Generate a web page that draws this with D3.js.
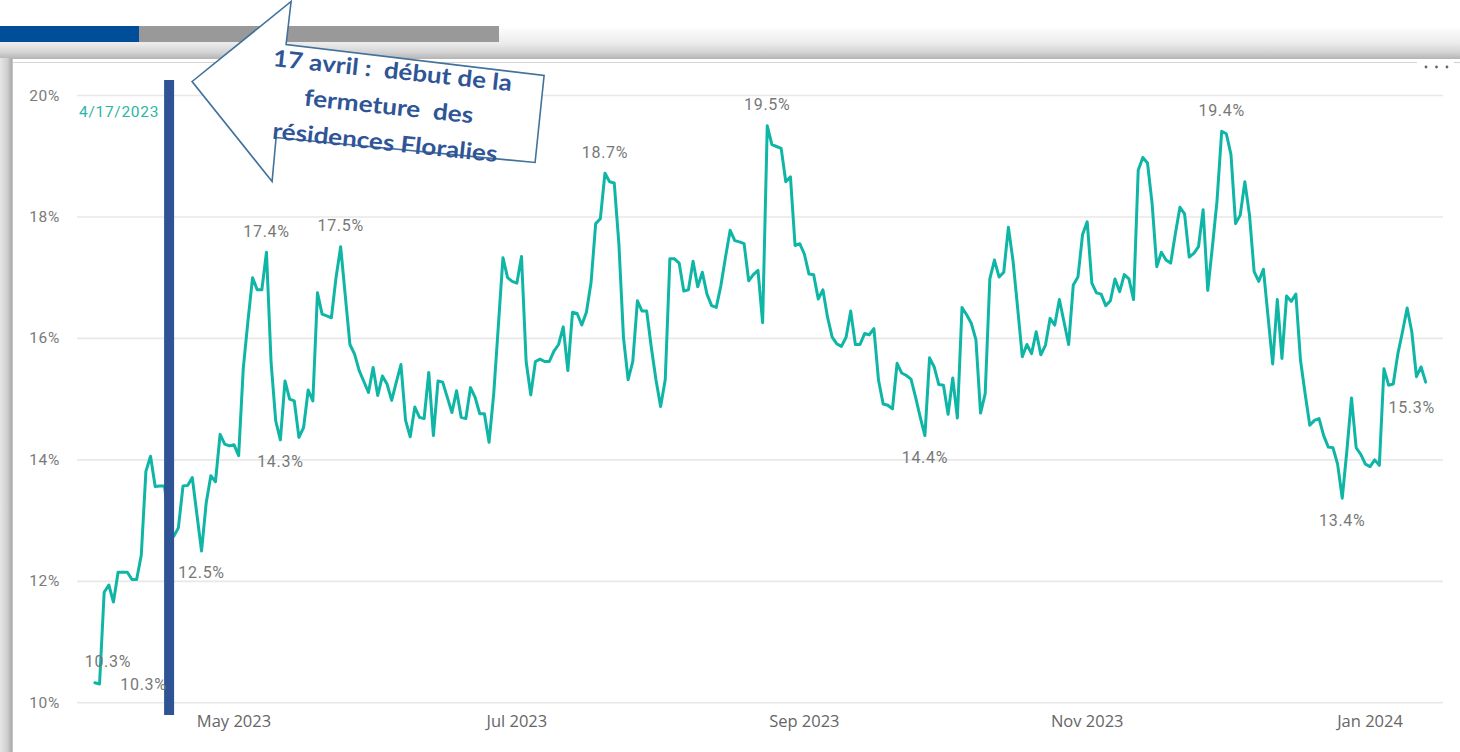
<!DOCTYPE html>
<html><head><meta charset="utf-8">
<script src="https://cdn.jsdelivr.net/npm/d3@7"></script>
<style>
html,body{margin:0;padding:0;background:#fff;}
svg{display:block;}
</style></head>
<body>
<svg id="chart" width="1460" height="752"></svg>
<script>
// ---------- data ----------
const startDate = "2023-04-01";          // first daily value
const values = [
  10.33,10.31,11.82,11.94,11.66,12.15,12.15,12.15,12.03,12.03,
  12.43,13.81,14.06,13.56,13.57,13.57,13.0,12.74,12.88,13.57,
  13.58,13.71,13.1,12.50,13.29,13.74,13.64,14.42,14.26,14.23,
  14.25,14.07,15.51,16.28,17.0,16.8,16.8,17.42,15.6,14.64,
  14.33,15.30,15.00,14.97,14.37,14.53,15.15,14.97,16.75,16.40,
  16.37,16.34,17.0,17.51,16.7,15.90,15.74,15.47,15.29,15.11,
  15.52,15.06,15.38,15.25,14.98,15.28,15.57,14.65,14.38,14.87,
  14.70,14.68,15.44,14.40,15.30,15.28,15.03,14.78,15.14,14.70,
  14.68,15.19,15.03,14.76,14.76,14.29,15.08,16.2,17.33,17.0,
  16.94,16.91,17.35,15.62,15.07,15.62,15.66,15.62,15.62,15.79,
  15.90,16.19,15.47,16.43,16.41,16.22,16.43,16.92,17.89,17.97,
  18.72,18.58,18.56,17.56,16.01,15.32,15.62,16.62,16.45,16.45,
  15.85,15.32,14.88,15.32,17.31,17.31,17.24,16.78,16.80,17.27,
  16.85,17.09,16.73,16.54,16.51,16.87,17.34,17.78,17.61,17.59,
  17.56,16.95,17.05,17.12,16.26,19.50,19.19,19.16,19.13,18.58,
  18.66,17.53,17.56,17.39,17.06,17.05,16.65,16.80,16.35,16.02,
  15.91,15.87,16.02,16.45,15.90,15.90,16.08,16.06,16.16,15.31,
  14.92,14.90,14.84,15.59,15.43,15.39,15.33,15.03,14.7,14.40,
  15.68,15.53,15.24,15.23,14.75,15.35,14.69,16.51,16.39,16.25,
  15.98,14.77,15.09,16.98,17.29,17.01,17.09,17.83,17.28,16.5,
  15.70,15.90,15.75,16.11,15.73,15.89,16.33,16.22,16.64,16.27,
  15.90,16.88,17.01,17.71,17.92,16.91,16.75,16.73,16.54,16.62,
  16.98,16.77,17.05,16.98,16.64,18.77,18.98,18.89,18.22,17.18,
  17.42,17.29,17.24,17.72,18.16,18.05,17.34,17.40,17.51,18.12,
  16.79,17.51,18.27,19.41,19.37,19.03,17.89,18.03,18.58,18.03,
  17.10,16.94,17.14,16.36,15.58,16.64,15.67,16.70,16.61,16.73,
  15.64,15.09,14.57,14.65,14.68,14.40,14.21,14.20,13.93,13.37,
  14.15,15.02,14.20,14.09,13.93,13.89,14.0,13.91,15.50,15.23,
  15.25,15.75,16.11,16.50,16.11,15.37,15.53,15.28
];
const yTicks = [10, 12, 14, 16, 18, 20];
const yTickLabels = ["10%", "12%", "14%", "16%", "18%", "20%"];
const xTickDates = ["2023-05-01", "2023-07-01", "2023-09-01", "2023-11-01", "2024-01-01"];
const xTickLabels = ["May 2023", "Jul 2023", "Sep 2023", "Nov 2023", "Jan 2024"];
const markerDate = "2023-04-17";
const markerLabel = "4/17/2023";
const labelIndex = [0, 1, 23, 37, 40, 53, 110, 145, 179, 243, 269, 287];
const labelSide  = ["first", "right", "below", "above", "below", "above", "above", "above", "below", "above", "below", "last"];
const calloutLines = ["17 avril :  début de la", "fermeture  des", "résidences Floralies"];

// ---------- setup ----------
const parse = d3.utcParse("%Y-%m-%d");
const t0 = parse(startDate);
const data = values.map((v, i) => ({date: d3.utcDay.offset(t0, i), value: v}));
const svg = d3.select("#chart");

const x = d3.scaleUtc()
  .domain([data[0].date, data[data.length - 1].date])
  .range([94.9, 1425.7]);
const y = d3.scaleLinear().domain([10, 20]).range([702.8, 95.5]);

const defs = svg.append("defs");
const gTop = defs.append("linearGradient").attr("id", "gTop").attr("x1", 0).attr("x2", 0).attr("y1", 0).attr("y2", 1);
gTop.append("stop").attr("offset", 0).attr("stop-color", "#fcfcfc");
gTop.append("stop").attr("offset", 0.5).attr("stop-color", "#ebebeb");
gTop.append("stop").attr("offset", 0.8).attr("stop-color", "#d2d2d2");
gTop.append("stop").attr("offset", 1).attr("stop-color", "#b4b4b4");
const gLeft = defs.append("linearGradient").attr("id", "gLeft").attr("x1", 0).attr("x2", 1).attr("y1", 0).attr("y2", 0);
gLeft.append("stop").attr("offset", 0).attr("stop-color", "#e6e6e6");
gLeft.append("stop").attr("offset", 0.6).attr("stop-color", "#cfcfcf");
gLeft.append("stop").attr("offset", 1).attr("stop-color", "#a9a9a9");

// ---------- frame ----------
svg.append("rect").attr("x", 0).attr("y", 28).attr("width", 1460).attr("height", 31).attr("fill", "url(#gTop)");
svg.append("rect").attr("x", 0).attr("y", 58).attr("width", 12).attr("height", 694).attr("fill", "url(#gLeft)");
svg.append("rect").attr("x", 0).attr("y", 26).attr("width", 139).attr("height", 16).attr("fill", "#004d99");
svg.append("rect").attr("x", 139).attr("y", 26).attr("width", 360).attr("height", 16).attr("fill", "#999999");
svg.append("rect").attr("x", 12).attr("y", 59).attr("width", 1448).attr("height", 693).attr("fill", "#fff");
svg.append("line").attr("x1", 12).attr("x2", 1417).attr("y1", 62.5).attr("y2", 62.5).attr("stroke", "#d4d4d4").attr("stroke-width", 1.2);
svg.append("line").attr("x1", 1454).attr("x2", 1460).attr("y1", 62.5).attr("y2", 62.5).attr("stroke", "#d4d4d4").attr("stroke-width", 1.2);
svg.append("line").attr("x1", 12.5).attr("x2", 12.5).attr("y1", 59).attr("y2", 752).attr("stroke", "#c8c8c8");
[1426, 1436.5, 1447].forEach(cx =>
  svg.append("circle").attr("cx", cx).attr("cy", 67).attr("r", 1.4).attr("fill", "#666"));

// ---------- grid + y axis ----------
const grid = svg.append("g");
grid.selectAll("line").data(yTicks).join("line")
  .attr("x1", 77).attr("x2", 1443)
  .attr("y1", d => y(d)).attr("y2", d => y(d))
  .attr("stroke", "#e8e8e8").attr("stroke-width", 1.6);
svg.append("g").selectAll("text").data(yTicks).join("text")
  .attr("x", 60).attr("y", d => y(d))
  .attr("text-anchor", "end").attr("dominant-baseline", "central")
  .attr("font-family", "Roboto, sans-serif").attr("font-size", 15.5)
  .attr("letter-spacing", 0.7).attr("fill", "#7a7a7a")
  .text((d, i) => yTickLabels[i]);

// ---------- x axis ----------
svg.append("g").selectAll("text").data(xTickDates).join("text")
  .attr("x", d => x(parse(d))).attr("y", 720)
  .attr("text-anchor", "middle").attr("dominant-baseline", "central")
  .attr("font-family", "'Open Sans', sans-serif").attr("font-size", 16.5)
  .attr("fill", "#666")
  .text((d, i) => xTickLabels[i]);

// ---------- line ----------
const line = d3.line().x(d => x(d.date)).y(d => y(d.value));
svg.append("path").datum(data)
  .attr("d", line).attr("fill", "none")
  .attr("stroke", "#0fb6a6").attr("stroke-width", 3)
  .attr("stroke-linejoin", "round").attr("stroke-linecap", "round");

// ---------- marker bar ----------
const mx = x(parse(markerDate));
svg.append("rect").attr("x", mx - 5).attr("y", 80).attr("width", 10).attr("height", 635).attr("fill", "#2e5496");
svg.append("text").attr("x", mx - 10).attr("y", 112)
  .attr("text-anchor", "end").attr("dominant-baseline", "central")
  .attr("font-family", "Roboto, sans-serif").attr("font-size", 15.5).attr("letter-spacing", 0.7)
  .attr("fill", "#2bb5a6").text(markerLabel);

// ---------- data labels ----------
const off = {above: [0, -21], below: [0, 22], first: [13, -21], right: [44, 1], last: [-14, 25]};
svg.append("g").selectAll("text").data(labelIndex).join("text")
  .attr("x", (d, i) => x(data[d].date) + off[labelSide[i]][0])
  .attr("y", (d, i) => y(data[d].value) + off[labelSide[i]][1])
  .attr("text-anchor", "middle").attr("dominant-baseline", "central")
  .attr("font-family", "Roboto, sans-serif").attr("font-size", 16).attr("letter-spacing", 0.7)
  .attr("fill", "#787878")
  .text(d => d3.format(".1f")(data[d].value) + "%");

// ---------- callout ----------
const tipX = mx + 23, tipY = y(20) - 14;
const shape = [[0,0],[99,-80],[94,-37],[352,-6],[343,81],[84,56],[80,100]]
  .map(p => [tipX + p[0], tipY + p[1]]);
svg.append("polygon").attr("points", shape.map(p => p.join(",")).join(" "))
  .attr("fill", "#fff").attr("stroke", "#41719c").attr("stroke-width", 1.6).attr("stroke-linejoin", "miter");
const cg = svg.append("g").attr("transform", `translate(${tipX + 197},${tipY + 22}) rotate(6)`);
const lens = [240, 170, 226];
cg.selectAll("text").data(calloutLines).join("text")
  .attr("x", 0).attr("y", (d, i) => -34 + i * 36)
  .attr("text-anchor", "middle").attr("dominant-baseline", "central")
  .attr("font-family", "Lato, 'Open Sans', sans-serif").attr("font-weight", 700).attr("font-size", 23)
  .attr("fill", "#2f5597").style("white-space", "pre")
  .attr("textLength", (d, i) => lens[i]).attr("lengthAdjust", "spacingAndGlyphs")
  .text(d => d);
</script>
</body></html>
